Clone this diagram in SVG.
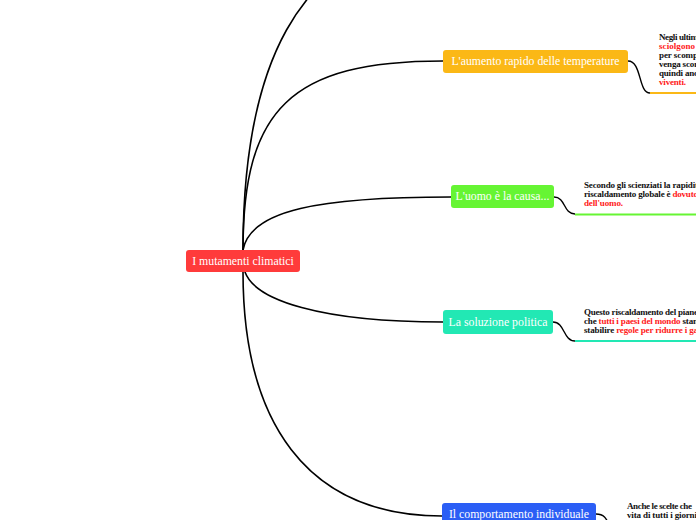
<svg xmlns="http://www.w3.org/2000/svg" width="696" height="520" viewBox="0 0 696 520">
<style>
.conn{fill:none;stroke:#000;stroke-width:1.6;stroke-linecap:round}
.sub{fill:none;stroke:#000;stroke-width:1.4}
.nt{font-family:"Liberation Serif","DejaVu Serif",serif;font-size:11.8px;fill:#fff;text-anchor:middle}
.dt{font-family:"Liberation Serif","DejaVu Serif",serif;font-size:9px;font-weight:bold;fill:#111}
.red{fill:#ff1a1a}
</style>
<rect width="696" height="520" fill="#fff"/>
<g id="connectors">
<path class="conn" d="M243,250 C243,60 300,-40 420,-70"/>
<path class="conn" d="M243,250 C243,110 290,61 443,61"/>
<path class="conn" d="M243,250 C250,210 320,197 451,197"/>
<path class="conn" d="M245,272 C255,300 320,322 443,322"/>
<path class="conn" d="M243,272 C243,420 305,516 442,516"/>
<path class="sub" d="M628,61 C642,61 638,93 650,93"/>
<path fill="none" stroke="#fbb816" stroke-width="2" d="M650,93 H696"/>
<path class="sub" d="M554,197 C566,197 563,214 575,214"/>
<path fill="none" stroke="#66f533" stroke-width="2" d="M575,214.5 H696"/>
<path class="sub" d="M553,322 C565,322 563,341 575,341"/>
<path fill="none" stroke="#22e8b4" stroke-width="2" d="M575,341 H696"/>
<path class="sub" d="M596,514 C604,514 606,518 610,526"/>
</g>
<g id="central">
<rect x="186" y="250" width="114" height="22" rx="3" fill="#ff3b3b"/>
<text class="nt" x="243" y="265">I mutamenti climatici</text>
</g>
<g id="node-temperature">
<rect x="443" y="50" width="185" height="23" rx="3" fill="#fbb816"/>
<text class="nt" x="535.5" y="65">L'aumento rapido delle temperature</text>
</g>
<g id="detail-temperature">
<text class="dt" x="659" y="40" textLength="39" lengthAdjust="spacing">Negli ultim</text>
<text class="dt red" x="659" y="49" textLength="36" lengthAdjust="spacing">sciolgono</text>
<text class="dt" x="659" y="58" textLength="39" lengthAdjust="spacing">per scomp</text>
<text class="dt" x="659" y="67" textLength="39" lengthAdjust="spacing">venga scor</text>
<text class="dt" x="659" y="76" textLength="39" lengthAdjust="spacing">quindi anc</text>
<text class="dt red" x="659" y="85" textLength="27" lengthAdjust="spacing">viventi.</text>
</g>
<g id="node-uomo">
<rect x="451" y="185" width="103" height="23" rx="3" fill="#66f533"/>
<text class="nt" x="502.5" y="200">L'uomo è la causa...</text>
</g>
<g id="detail-uomo">
<text class="dt" x="584" y="188" textLength="114" lengthAdjust="spacing">Secondo gli scienziati la rapidit</text>
<text class="dt" x="584" y="197" textLength="114" lengthAdjust="spacing">riscaldamento globale è <tspan class="red">dovuto</tspan></text>
<text class="dt red" x="584" y="206" textLength="39" lengthAdjust="spacing">dell'uomo.</text>
</g>
<g id="node-politica">
<rect x="443" y="310" width="110" height="24" rx="3" fill="#22e8b4"/>
<text class="nt" x="498" y="326">La soluzione politica</text>
</g>
<g id="detail-politica">
<text class="dt" x="584" y="315" textLength="114" lengthAdjust="spacing">Questo riscaldamento del piane</text>
<text class="dt" x="584" y="324" textLength="114" lengthAdjust="spacing">che <tspan class="red">tutti i paesi del mondo</tspan> stan</text>
<text class="dt" x="584" y="333" textLength="114" lengthAdjust="spacing">stabilire <tspan class="red">regole per ridurre i ga</tspan></text>
</g>
<g id="node-comportamento">
<rect x="442" y="503" width="154" height="26" rx="3" fill="#2b5ef5"/>
<text class="nt" x="519" y="518">Il comportamento individuale</text>
</g>
<g id="detail-comportamento">
<text class="dt" x="627" y="509" textLength="65" lengthAdjust="spacing">Anche le scelte che</text>
<text class="dt" x="627" y="518" textLength="70" lengthAdjust="spacing">vita di tutti i giorni</text>
</g>
</svg>
